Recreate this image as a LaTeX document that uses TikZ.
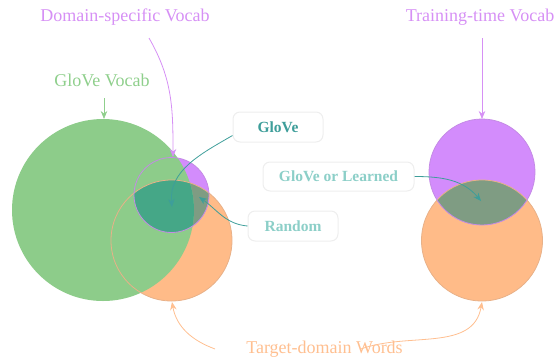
\documentclass[tikz,border=0pt]{standalone}
\usepackage{fontspec}
\setmainfont{Liberation Serif}
\newfontfamily\tms{Liberation Serif}
\usetikzlibrary{arrows.meta}
\definecolor{cgreen}{HTML}{8DCC8A}
\definecolor{cpurple}{HTML}{D38CFC}
\definecolor{corange}{HTML}{FFBB88}
\definecolor{cteal}{HTML}{45A787}
\definecolor{cgg}{HTML}{7F9C83}
\definecolor{lpurple}{HTML}{D690F5}
\definecolor{lgreen}{HTML}{8FCF8C}
\definecolor{lorange}{HTML}{FFBF90}
\definecolor{tdark}{HTML}{3E9E9A}
\definecolor{tlight}{HTML}{8CCFC8}
\definecolor{boxline}{HTML}{EEEEEE}
\tikzset{
  lbl/.style={font=\tms\fontsize{18}{20}\selectfont, inner sep=0pt},
  tagbox/.style={draw=boxline, line width=1pt, fill=white, rounded corners=7pt,
    font=\tms\fontsize{15.5}{18}\selectfont\bfseries, inner sep=0pt},
  arr/.style={-{Stealth[length=8pt,width=6.5pt]}, line width=0.8pt},
}
\begin{document}
\begin{tikzpicture}[x=1pt,y=-1pt]
\useasboundingbox (0,0) rectangle (560,360);
% circles
\fill[corange] (171.5,240.5) circle[radius=60.5pt];
\fill[corange] (482,240.5) circle[radius=60.5pt];
\fill[cpurple] (171.5,195) circle[radius=37.5pt];
\fill[cpurple] (482,172) circle[radius=53pt];
\begin{scope}
  \clip (171.5,195) circle[radius=37.5pt];
  \fill[cgg] (171.5,240.5) circle[radius=60.5pt];
\end{scope}
\begin{scope}
  \clip (482,172) circle[radius=53pt];
  \fill[cgg] (482,240.5) circle[radius=60.5pt];
\end{scope}
\fill[cgreen] (103,210) circle[radius=91pt];
\begin{scope}
  \clip (103,210) circle[radius=91pt];
  \clip (171.5,195) circle[radius=37.5pt];
  \fill[cteal] (171.5,240.5) circle[radius=60.5pt];
\end{scope}
\draw[corange!90!black!90, line width=0.8pt] (171.5,240.5) circle[radius=60.5pt];
\draw[corange!90!black!90, line width=0.8pt] (482,240.5) circle[radius=60.5pt];
\draw[cpurple!90!black!90, line width=0.8pt] (171.5,195) circle[radius=37.5pt];
\draw[cpurple!90!black!90, line width=0.8pt] (482,172) circle[radius=53pt];
% anchor coordinates
\coordinate (gtop) at (104,119);
\coordinate (gstart) at (104,98);
\coordinate (ptop) at (173,157);
\coordinate (pstart) at (149,38);
\coordinate (rtop) at (482,119);
\coordinate (rstart) at (482,38);
\coordinate (obl) at (172,302);
\coordinate (obr) at (482,302);
\coordinate (tealpt) at (172,207);
\coordinate (randpt) at (199,197);
\coordinate (gglpt) at (481,201);
% labels
\node[lbl, text=lpurple] (dsv) at (125,17) {Domain-specific Vocab};
\node[lbl, text=lgreen] (gv) at (102,80) {GloVe Vocab};
\node[lbl, text=lpurple] (ttv) at (480,17) {Training-time Vocab};
\node[lbl, text=lorange] (tdw) at (324.5,349) {Target-domain Words};
% boxes
\node[tagbox, text=tdark, minimum width=90pt, minimum height=30pt] (bglove) at (278,127) {GloVe};
\node[tagbox, text=tlight, minimum width=151pt, minimum height=29pt] (bgl) at (338.5,176.5) {GloVe or Learned};
\node[tagbox, text=tlight, minimum width=90pt, minimum height=30pt] (brand) at (293,226) {Random};
% arrows
\draw[arr, lgreen] (gstart) -- (gtop);
\draw[arr, lpurple] (pstart) to[out=-60,in=90] (ptop);
\draw[arr, lpurple] (rstart) -- (rtop);
\draw[arr, lorange] ([xshift=-31pt]tdw.west) to[out=160,in=-80] (obl);
\draw[arr, lorange] ([xshift=-42pt]tdw.east) to[out=20,in=-100] (obr);
\draw[arr, tdark] ([yshift=7pt]bglove.south west) to[out=-150,in=95] (tealpt);
\draw[arr, tdark] (brand.west) to[out=175,in=-35] (randpt);
\draw[arr, tdark] (bgl.east) to[out=0,in=130] (gglpt);
\end{tikzpicture}
\end{document}
